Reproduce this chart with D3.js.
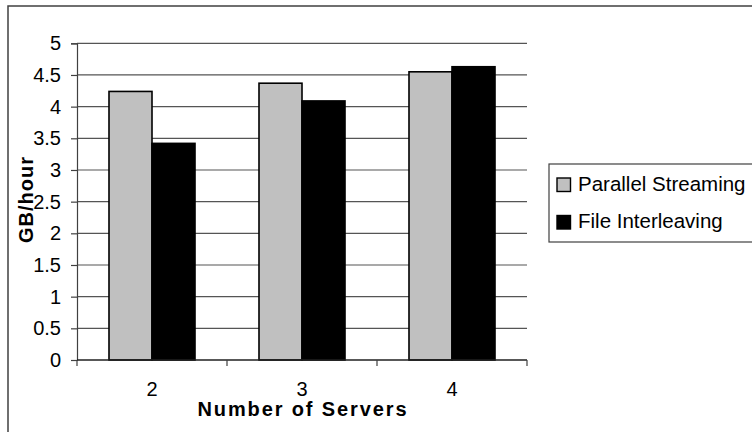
<!DOCTYPE html>
<html>
<head>
<meta charset="utf-8">
<script src="https://cdn.jsdelivr.net/npm/d3@7"></script>
<style>
  html, body { margin: 0; padding: 0; background: #fff; }
  svg { display: block; }
  text { font-family: "Liberation Sans", Arial, sans-serif; fill: #000; }
</style>
</head>
<body>
<svg id="chart" width="752" height="432"></svg>
<script>
// Throughput by number of servers for two transfer strategies
const categories = ["2", "3", "4"];
const seriesNames = ["Parallel Streaming", "File Interleaving"];
const parallelStreaming = [4.24, 4.37, 4.55];
const fileInterleaving = [3.42, 4.09, 4.63];
const yTicks = [0, 0.5, 1, 1.5, 2, 2.5, 3, 3.5, 4, 4.5, 5];
const seriesColors = ["#c0c0c0", "#000000"];

const seriesValues = [parallelStreaming, fileInterleaving];
const rows = categories.map((c, i) => ({
  cat: c,
  vals: seriesNames.map((s, j) => ({ name: s, value: seriesValues[j][i], color: seriesColors[j] }))
}));

const svg = d3.select("#chart");
const plot = { left: 77, right: 527, top: 43.3, bottom: 360 };

// outer frame (continues past the right and bottom edges)
svg.append("rect")
  .attr("x", 8).attr("y", 6).attr("width", 800).attr("height", 500)
  .attr("fill", "none").attr("stroke", "#404040").attr("stroke-width", 1.5);

const x0 = d3.scaleBand().domain(categories).range([plot.left, plot.right]).padding(0);
const x1 = d3.scaleBand().domain(seriesNames).range([0, x0.bandwidth()])
  .paddingInner(0).paddingOuter(0.744);
const y = d3.scaleLinear().domain([0, 5]).range([plot.bottom, plot.top]);

// horizontal gridlines
svg.append("g").selectAll("line").data(yTicks.filter(t => t > 0)).join("line")
  .attr("x1", plot.left).attr("x2", plot.right)
  .attr("y1", d => y(d)).attr("y2", d => y(d))
  .attr("stroke", "#555").attr("stroke-width", 1.2);

// bars
const groups = svg.append("g").selectAll("g").data(rows).join("g")
  .attr("transform", d => `translate(${x0(d.cat)},0)`);
groups.selectAll("rect").data(d => d.vals).join("rect")
  .attr("x", d => x1(d.name))
  .attr("y", d => y(d.value))
  .attr("width", x1.bandwidth())
  .attr("height", d => y(0) - y(d.value))
  .attr("fill", d => d.color)
  .attr("stroke", "#000").attr("stroke-width", 1.6);

// y axis
const yAxis = svg.append("g")
  .attr("transform", `translate(${plot.left},0)`)
  .call(d3.axisLeft(y).tickValues(yTicks).tickSize(6).tickPadding(10)
    .tickFormat(d => String(d)));
yAxis.select(".domain").attr("stroke", "#404040").attr("stroke-width", 1.2);
yAxis.selectAll(".tick line").attr("stroke", "#404040").attr("stroke-width", 1.2);
yAxis.selectAll(".tick text")
  .style("font-family", "'Liberation Sans', Arial, sans-serif")
  .attr("font-size", 20).attr("fill", "#000");

// x axis line and category boundary ticks
svg.append("line")
  .attr("x1", plot.left).attr("x2", plot.right)
  .attr("y1", y(0)).attr("y2", y(0))
  .attr("stroke", "#202020").attr("stroke-width", 1.4);
const bounds = categories.map(c => x0(c)).concat([x0.range()[1]]);
svg.append("g").selectAll("line").data(bounds).join("line")
  .attr("x1", d => d).attr("x2", d => d)
  .attr("y1", y(0)).attr("y2", y(0) + 6)
  .attr("stroke", "#404040").attr("stroke-width", 1.2);

// category labels
const xAxis = svg.append("g")
  .attr("transform", `translate(0,${y(0)})`)
  .call(d3.axisBottom(x0).tickSize(0).tickPadding(22));
xAxis.select(".domain").remove();
xAxis.selectAll(".tick text")
  .style("font-family", "'Liberation Sans', Arial, sans-serif")
  .attr("font-size", 20).attr("fill", "#000");

// axis titles
svg.append("text")
  .attr("x", (plot.left + plot.right) / 2).attr("y", 416)
  .attr("text-anchor", "middle")
  .attr("font-size", 20).attr("font-weight", "bold")
  .attr("textLength", 209).attr("lengthAdjust", "spacing")
  .text("Number of Servers");

svg.append("text")
  .attr("transform", "translate(33,200) rotate(-90)")
  .attr("text-anchor", "middle")
  .attr("font-size", 20).attr("font-weight", "bold")
  .attr("textLength", 86).attr("lengthAdjust", "spacing")
  .text("GB/hour");

// legend (box runs off the right edge)
const legend = svg.append("g").attr("transform", "translate(549,164)");
legend.append("rect")
  .attr("x", 0).attr("y", 0).attr("width", 260).attr("height", 78)
  .attr("fill", "#fff").attr("stroke", "#404040").attr("stroke-width", 1.2);
const items = legend.selectAll("g.item").data(seriesNames).join("g")
  .attr("class", "item")
  .attr("transform", (d, i) => `translate(8,${14 + i * 37.5})`);
items.append("rect")
  .attr("width", 13.5).attr("height", 13.5)
  .attr("fill", (d, i) => seriesColors[i])
  .attr("stroke", "#000").attr("stroke-width", 1.4);
items.append("text")
  .attr("x", 21).attr("y", 12.5)
  .attr("font-size", 20.5)
  .text(d => d);
</script>
</body>
</html>
